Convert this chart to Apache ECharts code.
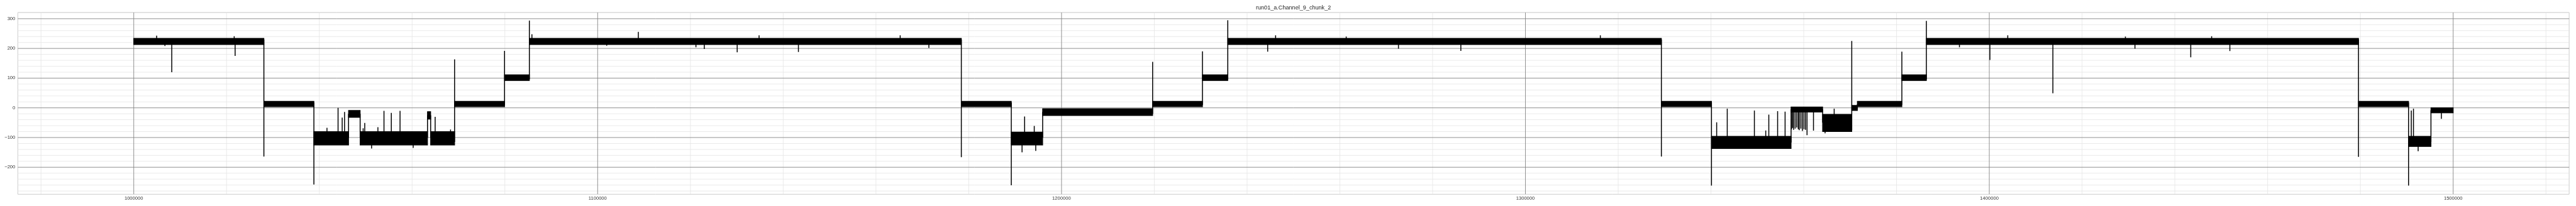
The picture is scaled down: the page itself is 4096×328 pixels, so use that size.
<!DOCTYPE html>
<html><head><meta charset="utf-8">
<script src="https://cdn.jsdelivr.net/npm/echarts@6/dist/echarts.min.js"></script>
<style>html,body{margin:0;padding:0;background:#fff}#c{width:4096px;height:328px}</style>
</head><body><div id="c"></div>
<script>
const chartTitle = 'run01_a.Channel_9_chunk_2';
const xRange = [975000, 1525000];
const yRange = [-291, 321];
const xMajorTicks = [1000000, 1100000, 1200000, 1300000, 1400000, 1500000];
const xMinorTicks = [980000, 1020000, 1040000, 1060000, 1080000, 1120000, 1140000, 1160000, 1180000,
  1220000, 1240000, 1260000, 1280000, 1320000, 1340000, 1360000, 1380000, 1420000, 1440000, 1460000, 1480000, 1520000];
const yMajorTicks = [-200, -100, 0, 100, 200, 300];
const yMinorTicks = [-280, -260, -240, -220, -180, -160, -140, -120, -80, -60, -40, -20,
  20, 40, 60, 80, 120, 140, 160, 180, 220, 240, 260, 280, 320];

// noisy plateaus of the trace: start, end, lower edge, upper edge
const segStart = [1000000, 1028050, 1038830, 1046300, 1048800, 1063320, 1064000, 1069160, 1079930, 1085280,
  1178400, 1189170, 1195930, 1219640, 1230380, 1235840, 1329310, 1340110, 1357270, 1364070,
  1370350, 1371560, 1381150, 1386440, 1479590, 1490380, 1495210];
const segEnd = [1028050, 1038830, 1046300, 1048800, 1063320, 1064000, 1069160, 1079930, 1085280, 1178400,
  1189170, 1195930, 1219640, 1230380, 1235840, 1329310, 1340110, 1357270, 1364070, 1370350,
  1371560, 1381150, 1386440, 1479590, 1490380, 1495210, 1500000];
const segLo = [213, 4, -125, -32, -125, -38, -125, 4, 92, 213,
  4, -125, -26, 4, 92, 213, 4, -137, -14, -80,
  -9, 4, 92, 213, 4, -130, -17];
const segHi = [234, 22, -80, -9, -80, -13, -80, 22, 111, 234,
  22, -82, -3, 22, 111, 234, 22, -96, 3, -22,
  8, 22, 111, 234, 22, -96, 0];

// single-sample excursions and jumps: position, start value, tip value
const spikeX = [1004930, 1006720, 1008190, 1021650, 1021850, 1028050, 1038830, 1041650, 1044040, 1044930, 1045440,
  1046300, 1048800, 1049450, 1049790, 1051270, 1052630, 1053940, 1055520, 1057400, 1060240, 1063320, 1064000,
  1064970, 1068290, 1069160, 1079930, 1085280, 1085830, 1101950, 1108770, 1121190, 1122990, 1130080, 1134800,
  1143280, 1165220, 1171400, 1178400, 1189170, 1191490, 1192040, 1194120, 1194440, 1195930, 1219640, 1230380,
  1235840, 1244440, 1246150, 1261370, 1272630, 1286080, 1316150, 1329310, 1340110, 1341230, 1343510, 1349360,
  1351810, 1352470, 1354370, 1355980, 1357270, 1357370, 1357590, 1357820, 1358150, 1358490, 1358820, 1359040,
  1359380, 1359710, 1360050, 1360380, 1360710, 1362100, 1364070, 1364600, 1366560, 1370350, 1371560, 1381150,
  1386440, 1393560, 1400130, 1403980, 1413710, 1429340, 1431400, 1443430, 1447930, 1451860, 1479590, 1490380,
  1490970, 1491440, 1492450, 1495210, 1497460];
const spikeFrom = [230, 215, 215, 230, 215, 230, 18, -90, -90, -90, -90,
  -100, -20, -90, -90, -115, -90, -90, -90, -90, -115, -100, -25,
  -90, -90, -115, 10, 96, 230, 215, 230, 215, 215, 215, 230,
  215, 230, 215, 230, 18, -115, -90, -90, -115, -100, -20, 10,
  96, 215, 230, 230, 215, 215, 230, 230, 18, -100, -100, -100,
  -100, -100, -100, -100, -117, -2, -2, -2, -2, -2, -2, -2,
  -2, -2, -2, -2, -2, -10, -5, -60, -30, -75, -3, 10,
  96, 215, 215, 230, 215, 230, 215, 215, 230, 215, 230, 18,
  -100, -100, -120, -115, -10];
const spikeTo = [243, 208, 120, 241, 175, -164, -258, -67, 0, -33, -14,
  -20, -100, -69, -51, -137, -65, -10, -17, -10, -135, -25, -100,
  -30, -73, 163, 192, 294, 248, 209, 256, 204, 198, 187, 244,
  188, 244, 202, -166, -261, -150, -29, -61, -145, -14, 155, 190,
  295, 189, 244, 240, 199, 192, 244, -164, -262, -49, -3, -9,
  -76, -23, -11, -13, -5, -72, -68, -74, -70, -66, -72, -75,
  -70, -78, -72, -74, -92, -77, -50, -86, -3, 225, 12, 189,
  293, 204, 161, 244, 49, 240, 199, 170, 241, 191, -165, -262,
  -9, -3, -146, -8, -37];

const LABEL_FONT = 'Liberation Sans';

function gridLines(ticks, orient, color, width) {
  return {
    type: 'custom', z: 1, silent: true, clip: true,
    data: ticks.map(v => [v]),
    renderItem: function (params, api) {
      const cs = params.coordSys;
      const v = api.value(0);
      let shape;
      if (orient === 'x') {
        const x = api.coord([v, yRange[0]])[0];
        shape = { x1: x, y1: cs.y, x2: x, y2: cs.y + cs.height };
      } else {
        const y = api.coord([xRange[0], v])[1];
        shape = { x1: cs.x, y1: y, x2: cs.x + cs.width, y2: y };
      }
      return { type: 'line', shape: shape, style: { stroke: color, lineWidth: width } };
    },
    encode: orient === 'x' ? { x: 0 } : { y: 0 }
  };
}

const segData = segStart.map((s, i) => [s, segEnd[i], segLo[i], segHi[i]]);
const spikeData = spikeX.map((x, i) => [x, spikeFrom[i], spikeTo[i]]);

const chart = echarts.init(document.getElementById('c'), null, { renderer: 'canvas' });
chart.setOption({
  animation: false,
  backgroundColor: '#ffffff',
  grid: { left: 28.3, right: 10.9, top: 19.9, bottom: 18.7, show: true, borderColor: '#cccccc', borderWidth: 1, backgroundColor: 'transparent' },
  graphic: [{
    type: 'text', x: 2056.6, y: 12.3, z: 10,
    style: { text: chartTitle, textAlign: 'center', textVerticalAlign: 'middle', font: '9.1px "Liberation Sans"', fill: '#262626' }
  }],
  xAxis: {
    type: 'value', min: xRange[0], max: xRange[1],
    axisLine: { show: false }, axisTick: { show: false }, splitLine: { show: false },
    axisLabel: { customValues: xMajorTicks, formatter: v => String(v), fontFamily: LABEL_FONT, fontSize: 7.6, color: '#333333', margin: 3 }
  },
  yAxis: {
    type: 'value', min: yRange[0], max: yRange[1],
    axisLine: { show: false }, axisTick: { show: false }, splitLine: { show: false },
    axisLabel: { customValues: yMajorTicks, formatter: v => String(v).replace('-', '\u2212'), fontFamily: LABEL_FONT, fontSize: 7.6, color: '#333333', margin: 4 }
  },
  series: [
    gridLines(xMinorTicks, 'x', '#e5e5e5', 0.8),
    gridLines(yMinorTicks, 'y', '#e5e5e5', 0.8),
    gridLines(xMajorTicks, 'x', '#858585', 0.9),
    gridLines(yMajorTicks, 'y', '#858585', 0.9),
    {
      type: 'custom', z: 5, clip: true, silent: true,
      data: segData,
      encode: { x: [0, 1], y: [2, 3] },
      renderItem: function (params, api) {
        const p1 = api.coord([api.value(0), api.value(3)]);
        const p2 = api.coord([api.value(1), api.value(2)]);
        return { type: 'rect', shape: { x: p1[0], y: p1[1], width: p2[0] - p1[0], height: p2[1] - p1[1] },
          style: { fill: '#000000', stroke: '#000000', lineWidth: 1.2 } };
      }
    },
    {
      type: 'custom', z: 6, clip: true, silent: true,
      data: spikeData,
      encode: { x: 0, y: [1, 2] },
      renderItem: function (params, api) {
        const a = api.coord([api.value(0), api.value(1)]);
        const b = api.coord([api.value(0), api.value(2)]);
        return { type: 'line', shape: { x1: a[0], y1: a[1], x2: b[0], y2: b[1] },
          style: { stroke: '#000000', lineWidth: 1.5 } };
      }
    }
  ]
});
</script></body></html>
